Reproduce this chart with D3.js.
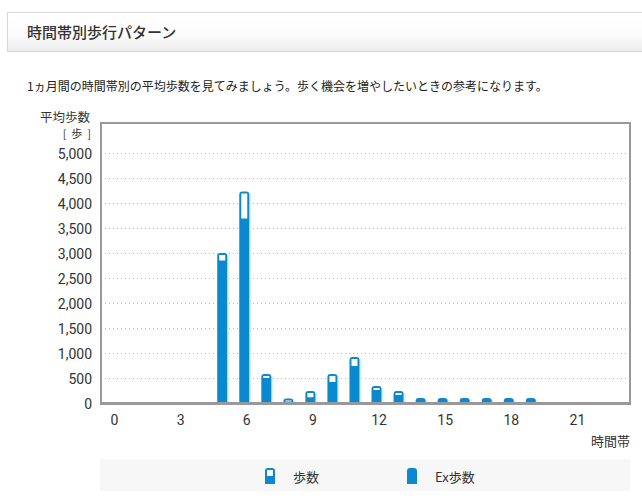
<!DOCTYPE html>
<html>
<head>
<meta charset="utf-8">
<script src="https://cdn.jsdelivr.net/npm/d3@7"></script>
<style>
  body { margin: 0; background: #fff; }
  svg { display: block; }
</style>
</head>
<body>
<div id="chart"></div>
<script>
var W = 642, H = 498;

// data
var hours = d3.range(0, 24);
var steps   = [0,0,0,0,0,3000,4230,580,90,240,580,920,340,240,100,100,100,100,100,100,0,0,0,0];
var exSteps = [0,0,0,0,0,2850,3690,500,30,115,420,740,260,160,95,65,95,95,65,65,0,0,0,0];
var yTicks = d3.range(0, 5001, 500);
var xTicks = [0,3,6,9,12,15,18,21];
var legendLabels = ['歩数','Ex歩数'];

var blue = '#0a88d0';
var jp = '"Noto Sans CJK JP", "Noto Sans", sans-serif';
var num = 'Roboto, "Liberation Sans", sans-serif';

var svg = d3.select('#chart').append('svg')
	.attr('width', W)
	.attr('height', H);

// header box
var grad = svg.append('defs').append('linearGradient')
	.attr('id', 'hdr')
	.attr('x1', 0).attr('y1', 0).attr('x2', 0).attr('y2', 1);
grad.append('stop').attr('offset', '0%').attr('stop-color', '#ffffff');
grad.append('stop').attr('offset', '60%').attr('stop-color', '#fbfbfb');
grad.append('stop').attr('offset', '100%').attr('stop-color', '#ececec');

svg.append('rect')
	.attr('x', 7.5).attr('y', 12.5)
	.attr('width', 640).attr('height', 39)
	.attr('fill', 'url(#hdr)')
	.attr('stroke', '#d8d8d8');

svg.append('text')
	.attr('x', 27).attr('y', 38)
	.attr('font-family', jp)
	.attr('font-size', '15px')
	.attr('font-weight', 500)
	.attr('fill', '#333')
	.text('時間帯別歩行パターン');

svg.append('text')
	.attr('x', 27).attr('y', 90.5)
	.attr('font-family', jp)
	.attr('font-size', '12px')
	.attr('fill', '#222')
	.text('1ヵ月間の時間帯別の平均歩数を見てみましょう。歩く機会を増やしたいときの参考になります。');

// scales
var pLeft = 101, pRight = 630, pTop = 123, pBottom = 403;

var x = d3.scalePoint()
	.domain(hours)
	.range([pLeft, pRight])
	.padding(0.5);

var y = d3.scaleLinear()
	.domain([0, 5600])
	.range([pBottom, pTop]);

// gridlines
svg.append('g')
	.selectAll('line')
	.data(yTicks.filter(function(d){ return d > 0; }))
	.enter()
	.append('line')
	.attr('x1', pLeft).attr('x2', pRight)
	.attr('y1', function(d){ return Math.round(y(d)) + 0.5; })
	.attr('y2', function(d){ return Math.round(y(d)) + 0.5; })
	.attr('stroke', '#bbb')
	.attr('stroke-dasharray', '1,3');

// y axis labels
var yAxis = d3.axisLeft(y)
	.tickValues(yTicks)
	.tickFormat(d3.format(','))
	.tickSize(0)
	.tickPadding(0);

svg.append('g')
	.attr('transform', 'translate(92,1)')
	.call(yAxis)
	.call(function(g){ g.select('.domain').remove(); })
	.selectAll('text')
	.attr('font-family', num)
	.attr('font-size', '14px')
	.attr('fill', '#333');

svg.append('text')
	.attr('x', 90).attr('y', 122)
	.attr('text-anchor', 'end')
	.attr('font-family', jp)
	.attr('font-size', '12.5px')
	.attr('fill', '#333')
	.text('平均歩数');

svg.append('text')
	.attr('x', 91).attr('y', 138)
	.attr('text-anchor', 'end')
	.attr('font-family', jp)
	.attr('font-size', '11px')
	.attr('fill', '#333')
	.attr('xml:space', 'preserve')
	.text('[  歩  ]');

// x axis labels
var xAxis = d3.axisBottom(x)
	.tickValues(xTicks)
	.tickSize(0)
	.tickPadding(0);

svg.append('g')
	.attr('transform', 'translate(2,' + (pBottom + 12) + ')')
	.call(xAxis)
	.call(function(g){ g.select('.domain').remove(); })
	.selectAll('text')
	.attr('font-family', num)
	.attr('font-size', '14px')
	.attr('fill', '#333');

svg.append('text')
	.attr('x', 630).attr('y', 446)
	.attr('text-anchor', 'end')
	.attr('font-family', jp)
	.attr('font-size', '13px')
	.attr('fill', '#333')
	.text('時間帯');

// bars
var bw = 10, r = 3;

function topRound(x0, y0, w, h, rr) {
	rr = Math.min(rr, h);
	return 'M' + x0 + ',' + (y0 + h) +
		'V' + (y0 + rr) +
		'Q' + x0 + ',' + y0 + ' ' + (x0 + rr) + ',' + y0 +
		'H' + (x0 + w - rr) +
		'Q' + (x0 + w) + ',' + y0 + ' ' + (x0 + w) + ',' + (y0 + rr) +
		'V' + (y0 + h) + 'Z';
}

var barData = hours.map(function(h, i){
	return {h: h, steps: steps[i], ex: exSteps[i]};
}).filter(function(d){ return d.steps > 0; });

var bars = svg.append('g');

// faint shadow to the right
bars.selectAll('rect.shadow')
	.data(barData)
	.enter()
	.append('rect')
	.attr('class', 'shadow')
	.attr('x', function(d){ return x(d.h) + bw / 2; })
	.attr('y', function(d){ return y(d.steps) + 2; })
	.attr('width', 2)
	.attr('height', function(d){ return pBottom - y(d.steps) - 2; })
	.attr('fill', '#dcedf8');

bars.selectAll('path.outer')
	.data(barData)
	.enter()
	.append('path')
	.attr('class', 'outer')
	.attr('d', function(d){
		var y0 = y(d.steps);
		return topRound(x(d.h) - bw / 2, y0, bw, pBottom - y0, r);
	})
	.attr('fill', blue);

bars.selectAll('rect.inner')
	.data(barData.filter(function(d){ return y(d.ex) - (y(d.steps) + 2) > 0.8; }))
	.enter()
	.append('rect')
	.attr('class', 'inner')
	.attr('x', function(d){ return x(d.h) - bw / 2 + 2; })
	.attr('y', function(d){ return y(d.steps) + 2; })
	.attr('width', bw - 4)
	.attr('height', function(d){ return y(d.ex) - y(d.steps) - 2; })
	.attr('fill', '#fff');

// frame
svg.append('rect')
	.attr('x', pLeft).attr('y', pTop)
	.attr('width', pRight - pLeft).attr('height', pBottom - pTop)
	.attr('fill', 'none')
	.attr('stroke', '#999')
	.attr('stroke-width', 2);

svg.append('line')
	.attr('x1', pLeft - 1).attr('x2', pRight + 1)
	.attr('y1', pBottom + 0.5).attr('y2', pBottom + 0.5)
	.attr('stroke', '#999')
	.attr('stroke-width', 3);

// legend
svg.append('rect')
	.attr('x', 100).attr('y', 459)
	.attr('width', 530).attr('height', 32)
	.attr('fill', '#f7f7f7');

var legend = svg.append('g');
var lx = [265, 407];

legend.selectAll('path')
	.data(legendLabels)
	.enter()
	.append('path')
	.attr('d', function(d, i){ return topRound(lx[i], 468, 10, 16, 3); })
	.attr('fill', blue);

legend.append('rect')
	.attr('x', lx[0] + 2).attr('y', 470)
	.attr('width', 6).attr('height', 6)
	.attr('fill', '#fff');

legend.selectAll('text')
	.data(legendLabels)
	.enter()
	.append('text')
	.attr('x', function(d, i){ return lx[i] + 28; })
	.attr('y', 481.5)
	.attr('font-family', jp)
	.attr('font-size', '13px')
	.attr('fill', '#333')
	.text(function(d){ return d; });
</script>
</body>
</html>
